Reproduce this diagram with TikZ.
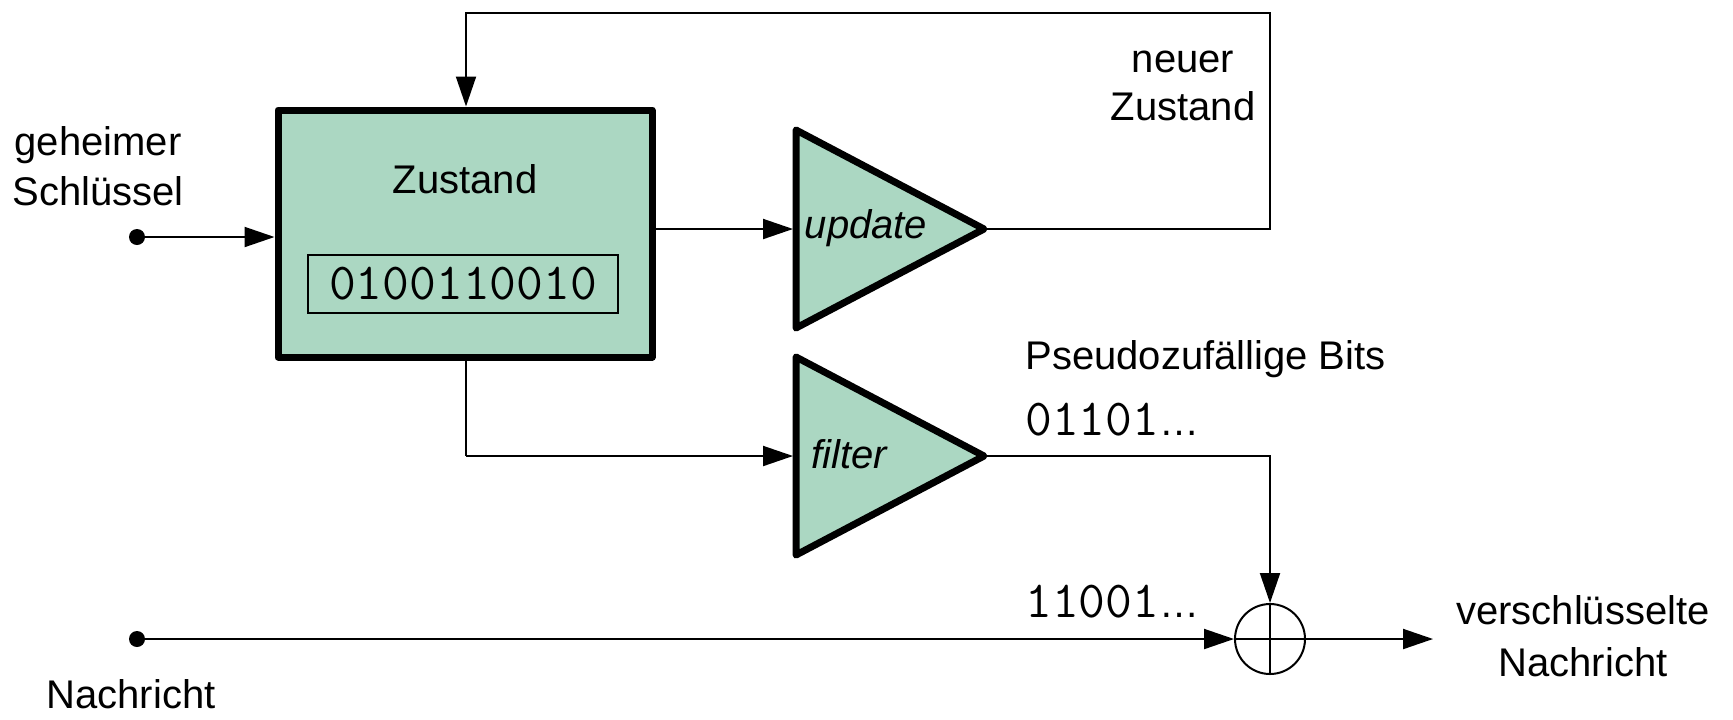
\documentclass[tikz,border=0pt]{standalone}
\usepackage{fontspec}
\setmainfont{Liberation Sans}
\usetikzlibrary{arrows.meta}
\definecolor{boxgreen}{RGB}{171,215,194}
\begin{document}
\begin{tikzpicture}[x=0.5pt,y=-0.5pt,
  conn/.style={line width=1pt},
  arr/.style={conn,-{Triangle[length=15pt,width=10pt]}},
  heavy/.style={draw,line width=3.5pt,fill=boxgreen,line join=round},
  lbl/.style={font=\fontsize{20pt}{24pt}\selectfont, inner sep=0pt, anchor=base},
  ilbl/.style={font=\fontsize{20pt}{24pt}\selectfont\itshape, inner sep=0pt, anchor=base},
  mono/.style={font=\ttfamily\fontsize{26pt}{30pt}\selectfont, inner sep=0pt},
  dot/.style={circle,fill,inner sep=0pt,minimum size=8pt},
]
\useasboundingbox (0,0) rectangle (1733,719);
% state box
\node[heavy, minimum width=187pt, minimum height=123.5pt, inner sep=0pt] (state) at (465,233.5) {};
\node[lbl] (statelbl) at (465,193) {Zustand};
\node[draw, line width=0.7pt, minimum width=155pt, minimum height=29pt, inner sep=0pt, mono] (bits) at (463,284) {0100110010};
% triangles
\draw[heavy] (796,130) -- (796,328) -- (984,229) -- cycle;
\draw[heavy] (796,357) -- (796,555) -- (984,456) -- cycle;
\coordinate (upin) at (793,229);
\coordinate (upout) at (984,229);
\coordinate (fin) at (793,456);
\coordinate (fout) at (984,456);
\node[ilbl] (uplbl) at (866,238) {update};
\node[ilbl] (flbl) at (849,468) {filter};
% xor
\node[circle, draw, line width=1pt, minimum size=35pt, inner sep=0pt] (xor) at (1270,639) {};
\draw[conn] (xor.north) -- (xor.south) (xor.west) -- (xor.east);
% dots
\node[dot] (key) at (137,237) {};
\node[dot] (msg) at (137,639) {};
\coordinate (out) at (1433,639);
\coordinate (c1) at (1270,13);
\coordinate (c2) at (466,13);
\coordinate (c3) at (466,456);
% connectors
\draw[arr] (key) -- (key -| state.west);
\draw[arr] (state.east |- upin) -- (upin);
\draw[arr] (upout) -- (upout -| c1) -- (c1) -- (c2) -- (c2 |- state.north);
\draw[conn] (c3 |- state.south) -- (c3);
\draw[arr] (c3) -- (fin);
\draw[arr] (fout) -- (fout -| xor) -- (xor.north);
\draw[arr] (msg) -- (xor.west);
\draw[arr] (xor.east) -- (out);
% labels
\node[lbl] (k1) at (98,155) {geheimer};
\node[lbl] (k2) at (98,205) {Schlüssel};
\node[lbl] (n1) at (1183,72) {neuer};
\node[lbl] (n2) at (1183,120) {Zustand};
\node[lbl, anchor=base west] (pb) at (1025,369) {Pseudozufällige Bits};
\node[mono, anchor=base west] (pbits) at (1025,435) {01101{\rmfamily\fontsize{20pt}{24pt}\selectfont…}};
\node[mono, anchor=base west] (mbits) at (1025,617) {11001{\rmfamily\fontsize{20pt}{24pt}\selectfont…}};
\node[lbl] (v1) at (1583,624) {verschlüsselte};
\node[lbl] (v2) at (1583,676) {Nachricht};
\node[lbl] (m1) at (131,708) {Nachricht};
\end{tikzpicture}
\end{document}
